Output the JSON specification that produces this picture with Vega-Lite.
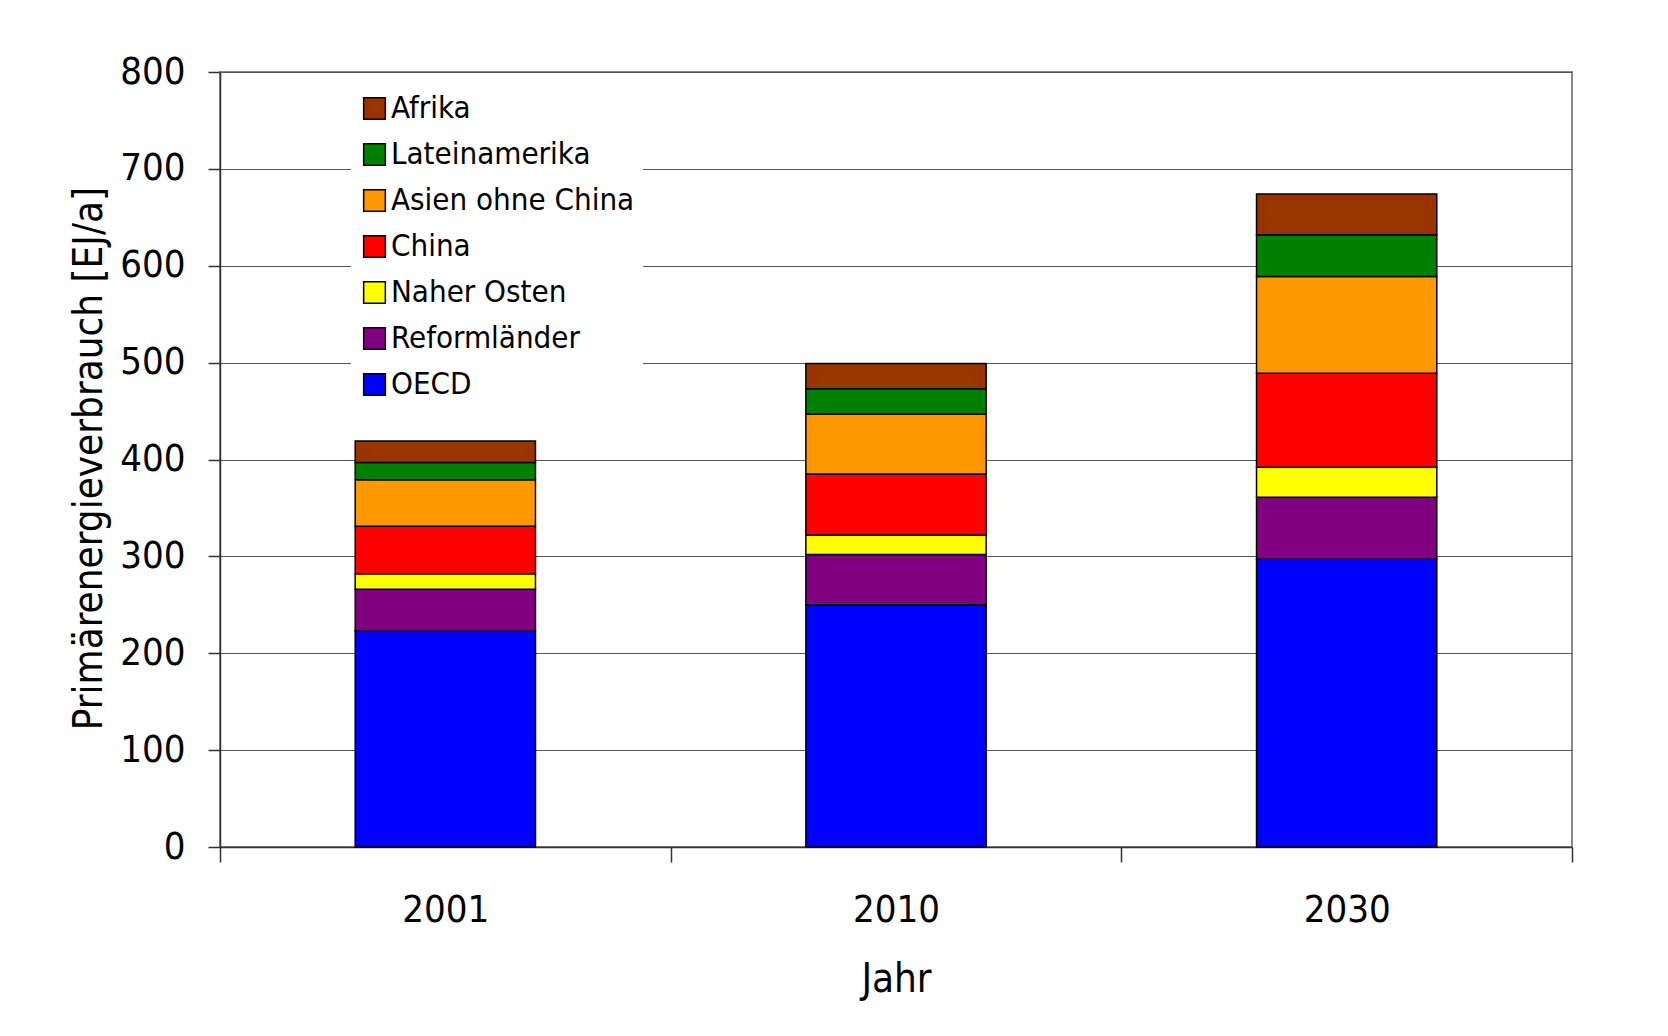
{
  "$schema": "https://vega.github.io/schema/vega-lite/v6.json",
  "autosize": {"type": "none"},
  "width": 1352,
  "height": 775,
  "padding": {"left": 220, "top": 72, "right": 96, "bottom": 189},
  "background": "white",
  "config": {
    "font": "DejaVu Sans Condensed",
    "view": {"stroke": "#888888", "strokeWidth": 2}
  },
  "data": {
    "values": [
      {"Jahr": "2001", "Region": "OECD", "Wert": 223, "Rang": 1},
      {"Jahr": "2001", "Region": "Reformländer", "Wert": 43, "Rang": 2},
      {"Jahr": "2001", "Region": "Naher Osten", "Wert": 16, "Rang": 3},
      {"Jahr": "2001", "Region": "China", "Wert": 49, "Rang": 4},
      {"Jahr": "2001", "Region": "Asien ohne China", "Wert": 48, "Rang": 5},
      {"Jahr": "2001", "Region": "Lateinamerika", "Wert": 18, "Rang": 6},
      {"Jahr": "2001", "Region": "Afrika", "Wert": 22, "Rang": 7},
      {"Jahr": "2010", "Region": "OECD", "Wert": 250, "Rang": 1},
      {"Jahr": "2010", "Region": "Reformländer", "Wert": 52, "Rang": 2},
      {"Jahr": "2010", "Region": "Naher Osten", "Wert": 20, "Rang": 3},
      {"Jahr": "2010", "Region": "China", "Wert": 63, "Rang": 4},
      {"Jahr": "2010", "Region": "Asien ohne China", "Wert": 62, "Rang": 5},
      {"Jahr": "2010", "Region": "Lateinamerika", "Wert": 26, "Rang": 6},
      {"Jahr": "2010", "Region": "Afrika", "Wert": 26, "Rang": 7},
      {"Jahr": "2030", "Region": "OECD", "Wert": 297, "Rang": 1},
      {"Jahr": "2030", "Region": "Reformländer", "Wert": 64, "Rang": 2},
      {"Jahr": "2030", "Region": "Naher Osten", "Wert": 31, "Rang": 3},
      {"Jahr": "2030", "Region": "China", "Wert": 97, "Rang": 4},
      {"Jahr": "2030", "Region": "Asien ohne China", "Wert": 100, "Rang": 5},
      {"Jahr": "2030", "Region": "Lateinamerika", "Wert": 43, "Rang": 6},
      {"Jahr": "2030", "Region": "Afrika", "Wert": 42, "Rang": 7}
    ]
  },
  "mark": {"type": "bar", "stroke": "black", "strokeWidth": 1.5, "width": {"band": 0.4}},
  "encoding": {
    "x": {
      "field": "Jahr",
      "type": "nominal",
      "scale": {"paddingInner": 0, "paddingOuter": 0},
      "axis": {
        "title": "Jahr",
        "labelAngle": 0,
        "labelFontSize": 38,
        "labelColor": "black",
        "labelPadding": 29,
        "tickBand": "extent",
        "tickSize": 15,
        "tickColor": "#333333",
        "tickWidth": 1.5,
        "domainColor": "#333333",
        "domainWidth": 1.5,
        "grid": false,
        "titleFontSize": 40,
        "titleFontWeight": "normal",
        "titleColor": "black",
        "titlePadding": 30
      }
    },
    "y": {
      "field": "Wert",
      "type": "quantitative",
      "stack": "zero",
      "scale": {"domain": [0, 800], "nice": false},
      "axis": {
        "title": "Primärenergieverbrauch [EJ/a]",
        "values": [0, 100, 200, 300, 400, 500, 600, 700, 800],
        "labelFontSize": 38,
        "labelColor": "black",
        "labelPadding": 23,
        "tickSize": 12,
        "tickColor": "#333333",
        "tickWidth": 1.5,
        "domainColor": "#333333",
        "domainWidth": 1.5,
        "grid": true,
        "gridColor": "#555555",
        "gridWidth": 1.2,
        "titleFontSize": 40,
        "titleFontWeight": "normal",
        "titleColor": "black",
        "titleAngle": 270,
        "titleAlign": "center",
        "titleBaseline": "alphabetic",
        "titleX": -119,
        "titleY": 386
      }
    },
    "color": {
      "field": "Region",
      "type": "nominal",
      "scale": {
        "domain": ["Afrika", "Lateinamerika", "Asien ohne China", "China", "Naher Osten", "Reformländer", "OECD"],
        "range": ["#993300", "#008000", "#FF9900", "#FF0000", "#FFFF00", "#800080", "#0000FF"]
      },
      "legend": {
        "orient": "none",
        "legendX": 131,
        "legendY": 13,
        "title": null,
        "padding": 8,
        "fillColor": "white",
        "strokeColor": null,
        "symbolType": "square",
        "symbolSize": 470,
        "symbolStrokeColor": "black",
        "symbolStrokeWidth": 1.5,
        "symbolOpacity": 1,
        "labelFontSize": 31,
        "labelColor": "black",
        "labelOffset": 1,
        "rowPadding": 14,
        "labelLimit": 400
      }
    },
    "order": {"field": "Rang", "type": "quantitative", "sort": "ascending"}
  }
}
